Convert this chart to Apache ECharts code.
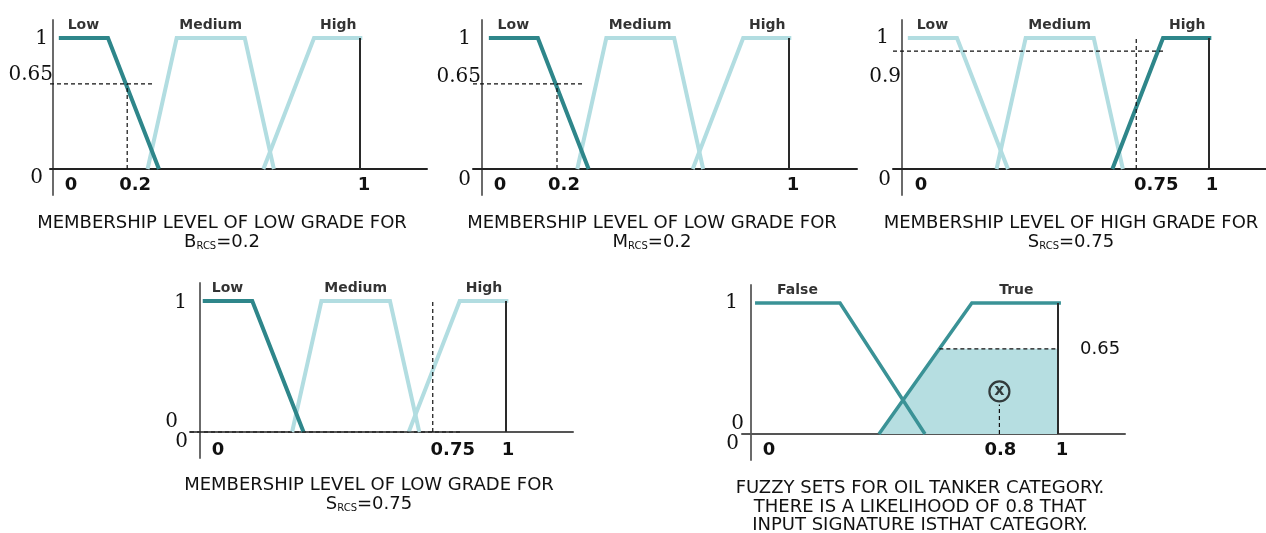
<!DOCTYPE html>
<html>
<head>
<meta charset="utf-8">
<script src="https://cdn.jsdelivr.net/npm/echarts@6/dist/echarts.min.js"></script>
<style>
  html, body { margin: 0; padding: 0; background: #fff; }
  #chart { width: 1266px; height: 533px; }
</style>
</head>
<body>
<div id="chart"></div>
<script>
// ---- Fuzzy grade sets shared by the four grade panels: [x, membership] vertices
const lowGrade = [[-0.035, 1], [0.134, 1], [0.309, 0]];
const mediumGrade = [[0.270, 0], [0.370, 1], [0.604, 1], [0.704, 0]];
const highGrade = [[0.668, 0], [0.842, 1], [1.008, 1]];
const gradeNames = ['Low', 'Medium', 'High'];

// ---- Readings shown in the grade panels
const readingInputs = [0.2, 0.2, 0.75, 0.75];   // RCS input value
const readingGrades = [0, 0, 2, 0];             // highlighted grade (index into gradeNames)
const readingLevels = [0.65, 0.65, 0.9, 0];     // membership level obtained
const guideTops = [0.65, 0.65, 1, 1];           // upper end of the vertical guide
const captionNames = ['B', 'M', 'S', 'S'];
const captionGrades = ['LOW', 'LOW', 'HIGH', 'LOW'];

// ---- Oil tanker category panel
const falseSet = [[-0.034, 1], [0.256, 1], [0.546, 0]];
const trueSet = [[0.389, 0], [0.706, 1], [1.01, 1]];
const categoryNames = ['False', 'True'];
const tankerLevel = 0.65;
const tankerLikelihood = 0.8;
const tankerCaption = [
  'FUZZY SETS FOR OIL TANKER CATEGORY.',
  'THERE IS A LIKELIHOOD OF 0.8 THAT',
  'INPUT SIGNATURE ISTHAT CATEGORY.'
];

// ---- Look
const SANS = 'DejaVu Sans', SERIF = 'DejaVu Serif';
const DARK = '#2e868a', LIGHT = '#b2dde1', TANKER = '#3a9296', FILL = '#b6dee1', INK = '#111';
const DASH = { color: '#111', width: 1.2, type: [4, 3] };

// ---- Panel geometry (pixels): axis line extent, y-axis position, where 0 and 1 fall
const Y_MIN = -26 / 131, Y_MAX = 1 + 18 / 131, PLOT_H = 175;
const BELOW_ZERO = 26;   // distance from the zero line to the bottom of each plot
const layout = [
  { axisStart: 50, axisEnd: 427, yAxisAt: 53, zeroPx: 69, onePx: 360, top: 20, labelGap: 7,
    cap: [222, 223, 241], xShift: [2, 8, 4], yShift: { one: [-5, 1], level: [0, -9], zero: [-10, 9] },
    xAxisColor: '#222' },
  { axisStart: 473, axisEnd: 857, yAxisAt: 482, zeroPx: 499, onePx: 789, top: 20, labelGap: 7,
    cap: [652, 223, 241], xShift: [1, 7, 4], yShift: { one: [-11, 1], level: [-1, -7], zero: [-11, 11] },
    xAxisColor: '#222' },
  { axisStart: 893, axisEnd: 1266, yAxisAt: 902, zeroPx: 918, onePx: 1209, top: 20, labelGap: 7,
    cap: [1071, 223, 241], xShift: [3, 20, 3], yShift: { one: [-13, 0], level: [-1, 26], zero: [-11, 11] },
    xAxisColor: '#222' },
  { axisStart: 190, axisEnd: 573, yAxisAt: 200, zeroPx: 213, onePx: 506, top: 283, labelGap: 9,
    cap: [369, 485, 503], xShift: [5, 20, 2], yShift: { one: [-13, 2], level: [-22, 0], zero: [-12, 0] },
    xAxisColor: '#555' },
  { axisStart: 742, axisEnd: 1125, yAxisAt: 751, zeroPx: 765, onePx: 1058, top: 285, labelGap: 7,
    cap: [920, 507], xShift: [4, 1, 4], yShift: { one: [-13, 0], level: [-7, 0], zero: [-12, 0] },
    xAxisColor: '#555' }
];

function fmtNum(v) { return String(+v.toFixed(2)); }
function plateauMid(set) {
  for (let k = 0; k < set.length - 1; k++) {
    if (set[k][1] === 1 && set[k + 1][1] === 1) return (set[k][0] + set[k + 1][0]) / 2;
  }
  return set[0][0];
}
function riseAt(set, level) {
  for (let k = 0; k < set.length - 1; k++) {
    const [x0, y0] = set[k], [x1, y1] = set[k + 1];
    if (y1 > y0) return x0 + (level - y0) / (y1 - y0) * (x1 - x0);
  }
  return set[0][0];
}

// x tick labels centred on their value, nudged right by a few pixels.
// Labels of an on-zero axis stay at the plot bottom, so the margin pulls them back up.
function xLabels(values, shifts, gap) {
  const rich = {};
  values.forEach((v, k) => {
    rich['x' + k] = { fontFamily: SANS, fontWeight: 'bold', fontSize: 18, color: INK,
      padding: [0, Math.max(-2 * shifts[k], 0), 0, Math.max(2 * shifts[k], 0)] };
  });
  return {
    customValues: values, margin: gap - BELOW_ZERO, align: 'center', hideOverlap: false,
    fontFamily: SANS, fontWeight: 'bold', fontSize: 18, color: INK, rich,
    formatter: v => {
      const k = values.findIndex(u => Math.abs(u - v) < 1e-9);
      return '{x' + k + '|' + fmtNum(v) + '}';
    }
  };
}

// y tick labels; a stacked pair of zeros when the reading level itself is 0.
// Blank end entries keep the min/max overlap pruning away from the real labels.
function yLabels(level, sh, stackedZero) {
  const tok = ([dx, dy]) => ({
    fontFamily: SERIF, fontSize: 20, color: INK, lineHeight: 20,
    padding: [Math.max(2 * dy, 0), Math.max(-dx, 0), Math.max(-2 * dy, 0), 0]
  });
  const rich = { one: tok(sh.one), lev: tok(sh.level), zer: tok(sh.zero) };
  const values = stackedZero ? [Y_MIN, 0, 1, Y_MAX] : [Y_MIN, 0, level, 1, Y_MAX];
  return {
    customValues: values, margin: 0, align: 'right', hideOverlap: false,
    showMinLabel: false, showMaxLabel: false,
    fontFamily: SERIF, fontSize: 20, color: INK, rich,
    formatter: v => {
      if (Math.abs(v - 1) < 1e-9) return '{one|1}';
      if (Math.abs(v) < 1e-9) return stackedZero ? '{lev|0}\n{zer|0}' : '{zer|0}';
      if (v < 0 || v > 1) return '';
      return '{lev|' + fmtNum(v) + '}';
    }
  };
}

function line(i, data, color, width, z, extra) {
  return Object.assign({
    type: 'line', xAxisIndex: i, yAxisIndex: i, data, symbol: 'none', silent: true,
    clip: false, z, lineStyle: { color, width, cap: 'butt', join: 'miter' }
  }, extra || {});
}
function setTitles(i, sets, names) {
  return {
    type: 'scatter', xAxisIndex: i, yAxisIndex: i, symbolSize: 1, silent: true, z: 6,
    itemStyle: { color: 'rgba(0,0,0,0)' },
    data: sets.map((s, k) => ({ value: [plateauMid(s), 1], name: names[k] })),
    label: { show: true, position: 'top', distance: 5, formatter: '{b}',
      fontFamily: SANS, fontWeight: 'bold', fontSize: 14, color: '#000' }
  };
}

const grids = [], xAxes = [], yAxes = [], series = [], graphics = [];

layout.forEach((L, i) => {
  const unit = L.onePx - L.zeroPx;
  const xMin = (L.axisStart - L.zeroPx) / unit;
  const xMax = (L.axisEnd - L.zeroPx) / unit;
  const isTanker = i === 4;
  const level = isTanker ? 0 : readingLevels[i];
  const reading = isTanker ? tankerLikelihood : readingInputs[i];

  grids.push({ left: L.axisStart, top: L.top, width: L.axisEnd - L.axisStart, height: PLOT_H,
    containLabel: false, outerBoundsMode: 'none' });
  xAxes.push({
    gridIndex: i, type: 'value', min: xMin, max: xMax,
    axisLine: { onZero: true, lineStyle: { color: L.xAxisColor, width: 2 } },
    axisTick: { show: false }, splitLine: { show: false },
    axisLabel: xLabels([0, reading, 1], L.xShift, L.labelGap)
  });
  yAxes.push({
    gridIndex: i, type: 'value', min: Y_MIN, max: Y_MAX,
    offset: -(L.yAxisAt - L.axisStart),
    axisLine: { show: true, onZero: false, lineStyle: { color: '#6b6b6b', width: 2 } },
    axisTick: { show: false }, splitLine: { show: false },
    axisLabel: yLabels(level, L.yShift, isTanker || level === 0)
  });

  if (!isTanker) {
    const sets = [lowGrade, mediumGrade, highGrade];
    const hi = readingGrades[i];
    sets.forEach((s, k) => {
      if (k !== hi) series.push(line(i, s, LIGHT, 4, 2));
    });
    series.push(line(i, sets[hi], DARK, 4, 3));
    // right boundary of the universe
    series.push(line(i, [[1, 0], [1, 1]], '#2a2a2a', 2, 4));
    // reading guides
    series.push(line(i, [[xMin, level], [reading + 0.095, level]], DASH.color, DASH.width, 5,
      { lineStyle: DASH }));
    series.push(line(i, [[reading, 0], [reading, guideTops[i]]], DASH.color, DASH.width, 5,
      { lineStyle: DASH }));
    series.push(setTitles(i, sets, gradeNames));

    graphics.push({ type: 'text', x: L.cap[0], y: L.cap[1], silent: true,
      style: { text: 'MEMBERSHIP LEVEL OF ' + captionGrades[i] + ' GRADE FOR',
        fontFamily: SANS, fontSize: 18, fill: INK, align: 'center', verticalAlign: 'middle' } });
    graphics.push({ type: 'text', x: L.cap[0], y: L.cap[2], silent: true,
      style: {
        text: '{b|' + captionNames[i] + '}{s|RCS}{b|=' + fmtNum(readingInputs[i]) + '}',
        align: 'center', verticalAlign: 'middle',
        rich: {
          b: { fontFamily: SANS, fontSize: 18, fill: INK, lineHeight: 20, verticalAlign: 'bottom' },
          s: { fontFamily: SANS, fontSize: 10, fill: INK, lineHeight: 12, verticalAlign: 'bottom' }
        }
      } });
  } else {
    const cross = riseAt(trueSet, tankerLevel);
    // truth region clipped at the obtained level
    series.push(line(i, [[trueSet[0][0], 0], [cross, tankerLevel], [1, tankerLevel], [1, 0]],
      FILL, 0, 1, { areaStyle: { color: FILL, opacity: 1 } }));
    series.push(line(i, falseSet, TANKER, 3.5, 3));
    series.push(line(i, trueSet, TANKER, 3.5, 3));
    series.push(line(i, [[1, 0], [1, 1]], '#2a2a2a', 2, 4));
    series.push(line(i, [[cross, tankerLevel], [1, tankerLevel]], DASH.color, DASH.width, 5, {
      lineStyle: DASH,
      endLabel: { show: true, formatter: fmtNum(tankerLevel), distance: 22,
        fontFamily: SANS, fontSize: 18, color: INK }
    }));
    const markY = tankerLevel / 2;
    series.push(line(i, [[tankerLikelihood, 0], [tankerLikelihood, markY - 0.1]],
      DASH.color, DASH.width, 5, { lineStyle: DASH }));
    series.push({
      type: 'scatter', xAxisIndex: i, yAxisIndex: i, silent: true, z: 6,
      symbol: 'circle', symbolSize: 20,
      itemStyle: { color: 'rgba(0,0,0,0)', borderColor: INK, borderWidth: 2.2 },
      data: [[tankerLikelihood, markY]],
      label: { show: true, position: 'inside', formatter: 'x', offset: [0, -1],
        fontFamily: SANS, fontWeight: 'bold', fontSize: 16, color: INK }
    });
    series.push(setTitles(i, [falseSet, trueSet], categoryNames));

    graphics.push({ type: 'text', x: L.cap[0], y: L.cap[1], silent: true,
      style: { text: tankerCaption.join('\n'), fontFamily: SANS, fontSize: 18, lineHeight: 18.5,
        fill: INK, align: 'center', verticalAlign: 'middle' } });
  }
});

const chart = echarts.init(document.getElementById('chart'), null, { renderer: 'canvas' });
chart.setOption({
  animation: false,
  backgroundColor: '#ffffff',
  textStyle: { fontFamily: SANS },
  grid: grids,
  xAxis: xAxes,
  yAxis: yAxes,
  series,
  graphic: graphics
});
</script>
</body>
</html>
